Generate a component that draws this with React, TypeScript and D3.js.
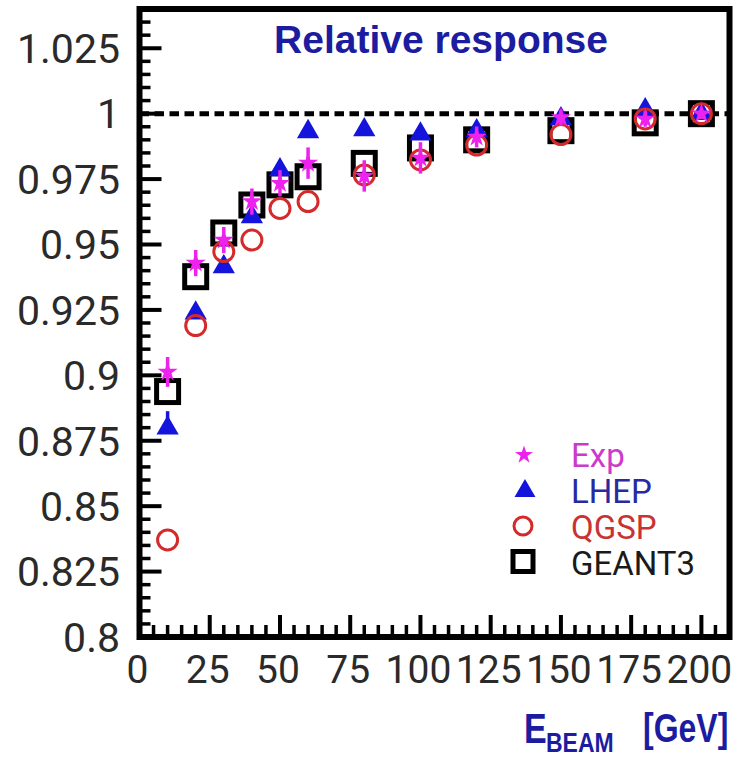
import React from "react";
import * as d3 from "d3";

// Beam energies (GeV) and relative response for data and simulations
const energies = [10, 20, 30, 40, 50, 60, 80, 100, 120, 150, 180, 200];
const expResponse = [0.9013, 0.9429, 0.9517, 0.9664, 0.9734, 0.9811, 0.9762, 0.9831, 0.9911, 0.9985, 0.998, 1.0];
const expError = [0.0057, 0.005, 0.005, 0.005, 0.005, 0.006, 0.006, 0.006, 0.004, 0.003, 0.003, 0.002];
const lhepResponse = [0.8798, 0.9238, 0.9415, 0.9606, 0.9785, 0.9931, 0.9938, 0.9922, 0.9934, 0.998, 1.0015, 1.0];
const lhepError = [0.0065, 0, 0, 0, 0, 0, 0, 0, 0, 0, 0, 0];
const qgspResponse = [0.8371, 0.919, 0.9473, 0.9517, 0.9638, 0.9664, 0.9766, 0.9823, 0.988, 0.992, 0.998, 1.0];
const geant3Response = [0.8938, 0.9377, 0.9544, 0.9651, 0.9728, 0.9759, 0.981, 0.9869, 0.99, 0.9935, 0.9965, 1.0];

const xTicks = [0, 25, 50, 75, 100, 125, 150, 175, 200];
const xTickLabels = ["0", "25", "50", "75", "100", "125", "150", "175", "200"];
const yTicks = [0.8, 0.825, 0.85, 0.875, 0.9, 0.925, 0.95, 0.975, 1.0, 1.025];
const yTickLabels = ["0.8", "0.825", "0.85", "0.875", "0.9", "0.925", "0.95", "0.975", "1", "1.025"];
const legendLabels = ["Exp", "LHEP", "QGSP", "GEANT3"];

const W = 737;
const H = 759;
const plot = { left: 139.5, right: 729.5, top: 9, bottom: 637 };

const x = d3.scaleLinear().domain([0, 210]).range([plot.left, plot.right]);
const y = d3.scaleLinear().domain([0.8, 1.04]).range([plot.bottom, plot.top]);

const MAGENTA = "#ee22ee";
const BLUE = "#1414dc";
const RED = "#d42a2a";
const TITLE_BLUE = "#1c1ca0";

const starPath = d3.symbol().type(d3.symbolStar).size(125)()!;
const trianglePath = d3.symbol().type(d3.symbolTriangle).size(215)()!;
const legendStar = d3.symbol().type(d3.symbolStar).size(100)()!;
const legendTriangle = d3.symbol().type(d3.symbolTriangle).size(190)()!;

const xMinor = d3.range(0, 211, 5).filter((v) => v % 25 !== 0);
const yMinor = d3
  .range(0, 49)
  .map((i) => 0.8 + i * 0.005)
  .filter((v) => Math.abs((v - 0.8) / 0.025 - Math.round((v - 0.8) / 0.025)) > 1e-6);

export default function App() {
  const font = "Roboto, 'Liberation Sans', Arial, sans-serif";
  const boldFont = "'Liberation Sans', Arial, sans-serif";
  return (
    <svg width={W} height={H} style={{ position: "absolute", left: 0, top: 0, background: "#fff" }}>
      <rect x={0} y={0} width={W} height={H} fill="#fff" />

      {/* Reference line at unit response */}
      <line x1={plot.left} x2={plot.right} y1={y(1)} y2={y(1)} stroke="#000" strokeWidth={5} strokeDasharray="9.5 5.5" />

      {/* Y ticks (inward) */}
      {yTicks.map((v) => (
        <line key={"ym" + v} x1={plot.left} x2={plot.left + 22} y1={y(v)} y2={y(v)} stroke="#000" strokeWidth={4} />
      ))}
      {yMinor.map((v, i) => (
        <line key={"yn" + i} x1={plot.left} x2={plot.left + 11} y1={y(v)} y2={y(v)} stroke="#000" strokeWidth={3.5} />
      ))}
      {/* X ticks (inward) */}
      {xTicks.map((v) => (
        <line key={"xm" + v} x1={x(v)} x2={x(v)} y1={plot.bottom} y2={plot.bottom - 22} stroke="#000" strokeWidth={4} />
      ))}
      {xMinor.map((v) => (
        <line key={"xn" + v} x1={x(v)} x2={x(v)} y1={plot.bottom} y2={plot.bottom - 12} stroke="#000" strokeWidth={3.5} />
      ))}

      {/* GEANT3 squares */}
      {energies.map((e, i) => (
        <rect key={"g" + e} x={x(e) - 11} y={y(geant3Response[i]) - 11} width={22} height={22} fill="none" stroke="#000" strokeWidth={5} />
      ))}
      {/* LHEP triangles */}
      {energies.map((e, i) => (
        <g key={"l" + e}>
          {lhepError[i] > 0 && (
            <line x1={x(e)} x2={x(e)} y1={y(lhepResponse[i])} y2={y(lhepResponse[i] + lhepError[i])} stroke={BLUE} strokeWidth={3.5} />
          )}
          <path d={trianglePath} transform={`translate(${x(e)},${y(lhepResponse[i])})`} fill={BLUE} />
        </g>
      ))}
      {/* QGSP circles */}
      {energies.map((e, i) => (
        <circle key={"q" + e} cx={x(e)} cy={y(qgspResponse[i])} r={10} fill="none" stroke={RED} strokeWidth={3} />
      ))}
      {/* Data stars with error bars */}
      {energies.map((e, i) => (
        <g key={"s" + e}>
          <line x1={x(e)} x2={x(e)} y1={y(expResponse[i] - expError[i])} y2={y(expResponse[i] + expError[i])} stroke={MAGENTA} strokeWidth={3.5} />
          <path d={starPath} transform={`translate(${x(e)},${y(expResponse[i])})`} fill={MAGENTA} />
        </g>
      ))}

      {/* Frame */}
      <rect x={plot.left} y={plot.top} width={plot.right - plot.left} height={plot.bottom - plot.top} fill="none" stroke="#000" strokeWidth={6} />

      {/* Title */}
      <text x={441} y={53} textAnchor="middle" fontFamily={boldFont} fontWeight="bold" fontSize={39} fill={TITLE_BLUE}>
        Relative response
      </text>

      {/* Y tick labels */}
      {yTicks.map((v, i) => (
        <text key={"yl" + v} x={120} y={y(v)} dy="0.36em" textAnchor="end" fontFamily={font} fontSize={41} fill="#2a2a2a">
          {yTickLabels[i]}
        </text>
      ))}
      {/* X tick labels */}
      {xTicks.map((v, i) => (
        <text key={"xl" + v} x={x(v) - 2} y={683} textAnchor="middle" fontFamily={font} fontSize={39} fill="#2a2a2a">
          {xTickLabels[i]}
        </text>
      ))}

      {/* Axis title, drawn slightly tall */}
      <g fontFamily={boldFont} fontWeight="bold" fill={TITLE_BLUE}>
        <text transform="translate(524,743) scale(1,1.25)" fontSize={34}>E</text>
        <text transform="translate(546,752) scale(1,1.2)" fontSize={23}>BEAM</text>
        <text transform="translate(643,742) scale(1,1.25)" fontSize={32}>[GeV]</text>
      </g>

      {/* Legend */}
      <g>
        <path d={legendStar} transform="translate(524,455)" fill={MAGENTA} />
        <path d={legendTriangle} transform="translate(525,491)" fill={BLUE} />
        <circle cx={523} cy={526} r={9} fill="none" stroke={RED} strokeWidth={3} />
        <rect x={513} y={551.5} width={20} height={20} fill="none" stroke="#000" strokeWidth={5} />
        {legendLabels.map((t, i) => (
          <text key={t} x={571} y={467 + i * 36} fontFamily={font} fontSize={33}
            fill={["#cc3acc", "#2a2aa0", "#c83232", "#1a1a1a"][i]}>
            {t}
          </text>
        ))}
      </g>
    </svg>
  );
}
